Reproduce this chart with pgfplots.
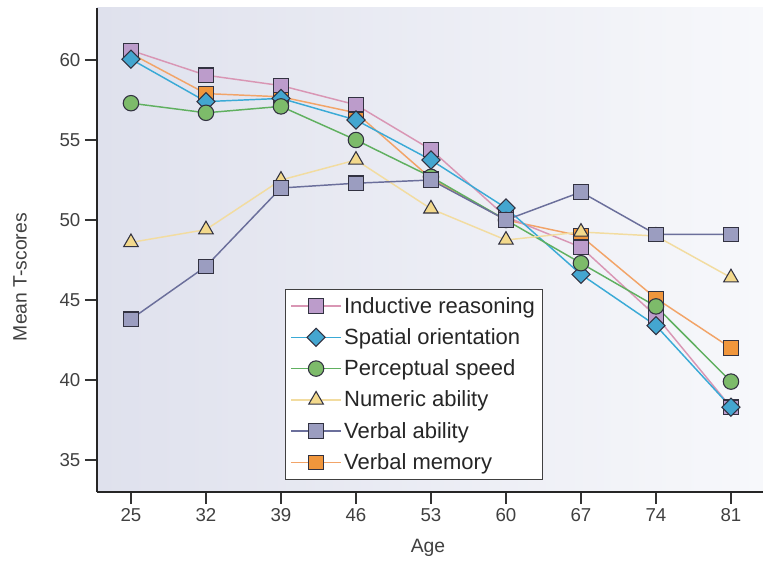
\documentclass[border=0pt]{standalone}
\usepackage{fontspec}
\setmainfont{Liberation Sans}
\usepackage{pgfplots}
\pgfplotsset{compat=1.18}

\definecolor{c_ind}{RGB}{217,150,180}
\definecolor{c_indf}{RGB}{188,156,203}
\definecolor{c_spa}{RGB}{58,170,214}
\definecolor{c_spaf}{RGB}{68,166,208}
\definecolor{c_per}{RGB}{96,176,96}
\definecolor{c_perf}{RGB}{125,187,106}
\definecolor{c_num}{RGB}{242,220,160}
\definecolor{c_numf}{RGB}{243,217,140}
\definecolor{c_vab}{RGB}{107,111,155}
\definecolor{c_vabf}{RGB}{155,157,192}
\definecolor{c_vme}{RGB}{242,164,104}
\definecolor{c_vmef}{RGB}{240,150,60}
\definecolor{c_mk}{RGB}{50,50,65}
\definecolor{c_bgl}{RGB}{223,225,237}
\definecolor{c_bgr}{RGB}{247,248,251}

\pgfplotsset{mk/.style={mark options={solid, draw=c_mk, line width=0.8pt, fill=#1}}}

\begin{document}
\begin{tikzpicture}
% picture = 763 x 572 px at 0.75pt per px
\path[use as bounding box] (-72.75pt,-60pt) rectangle (499.5pt,369pt);
\begin{axis}[
    at={(0,0)}, anchor=south west,
    scale only axis,
    width=499.5pt, height=363pt,
    xmin=21.83, xmax=83.99,
    ymin=33, ymax=63.25,
    xtick={25,32,39,46,53,60,67,74,81},
    ytick={35,40,45,50,55,60},
    axis x line*=bottom,
    axis y line*=left,
    axis line style={-, line width=1.1pt, black!85},
    tick align=outside,
    major tick length=9pt,
    tick style={line width=1pt, black!80},
    /pgf/number format/assume math mode=true,
    ticklabel style={font=\fontsize{14}{16}\selectfont, text=black!75},
    xlabel={Age},
    ylabel={Mean T-scores},
    label style={font=\fontsize{14.5}{16}\selectfont, text=black!75},
    xlabel style={at={(axis description cs:0.497,-0.1157)}, anchor=center},
    ylabel style={at={(axis description cs:-0.1156,0.444)}, anchor=center, rotate=0},
    axis background/.style={left color=c_bgl, right color=c_bgr},
    every axis plot/.append style={line width=1.1pt},
    legend style={
        at={(axis description cs:0.282,0.025)}, anchor=south west,
        font=\fontsize{16.5}{18}\selectfont,
        draw=black!75, line width=0.8pt, fill=white,
        row sep=6pt, inner sep=4pt,
        text=black!85,
    },
    legend cell align=left,
    legend image code/.code={
        \draw[mark repeat=2, mark phase=2]
            plot coordinates {(0cm,0cm) (0.65cm,0cm) (1.3cm,0cm)};
    },
]

% Verbal memory (drawn first, legend entry added at the end)
\addplot[color=c_vme, mark=square*, mark size=5.4pt, mk=c_vmef,
         forget plot] coordinates {
    (25,60.4) (32,57.9) (39,57.7) (46,56.7) (53,52.6)
    (60,50.0) (67,49.0) (74,45.1) (81,42.0)
};

% Inductive reasoning
\addplot[color=c_ind, mark=square*, mark size=5.4pt, mk=c_indf] coordinates {
    (25,60.6) (32,59.05) (39,58.4) (46,57.2) (53,54.4)
    (60,50.2) (67,48.3) (74,44.0) (81,38.3)
};
\addlegendentry{Inductive reasoning}

% Spatial orientation (square turned 45 degrees)
\addplot[color=c_spa, mark=square*, mark size=4.8pt,
         mark options={solid, rotate=45, draw=c_mk, line width=0.8pt, fill=c_spaf}] coordinates {
    (25,60.05) (32,57.4) (39,57.6) (46,56.25) (53,53.75)
    (60,50.75) (67,46.6) (74,43.4) (81,38.3)
};
\addlegendentry{Spatial orientation}

% Perceptual speed
\addplot[color=c_per, mark=*, mark size=5.8pt, mk=c_perf] coordinates {
    (25,57.3) (32,56.7) (39,57.1) (46,55.0) (53,52.7)
    (60,50.0) (67,47.3) (74,44.6) (81,39.9)
};
\addlegendentry{Perceptual speed}

% Numeric ability
\addplot[color=c_num, mark=triangle*, mark size=6.3pt, mk=c_numf] coordinates {
    (25,48.6) (32,49.4) (39,52.5) (46,53.75) (53,50.7)
    (60,48.75) (67,49.25) (74,49.0) (81,46.4)
};
\addlegendentry{Numeric ability}

% Verbal ability
\addplot[color=c_vab, mark=square*, mark size=5.4pt, mk=c_vabf] coordinates {
    (25,43.8) (32,47.1) (39,52.0) (46,52.3) (53,52.5)
    (60,50.0) (67,51.75) (74,49.1) (81,49.1)
};
\addlegendentry{Verbal ability}

\addlegendimage{color=c_vme, line width=1.1pt, mark=square*, mark size=5.4pt, mk=c_vmef}
\addlegendentry{Verbal memory}

\end{axis}
\end{tikzpicture}
\end{document}
